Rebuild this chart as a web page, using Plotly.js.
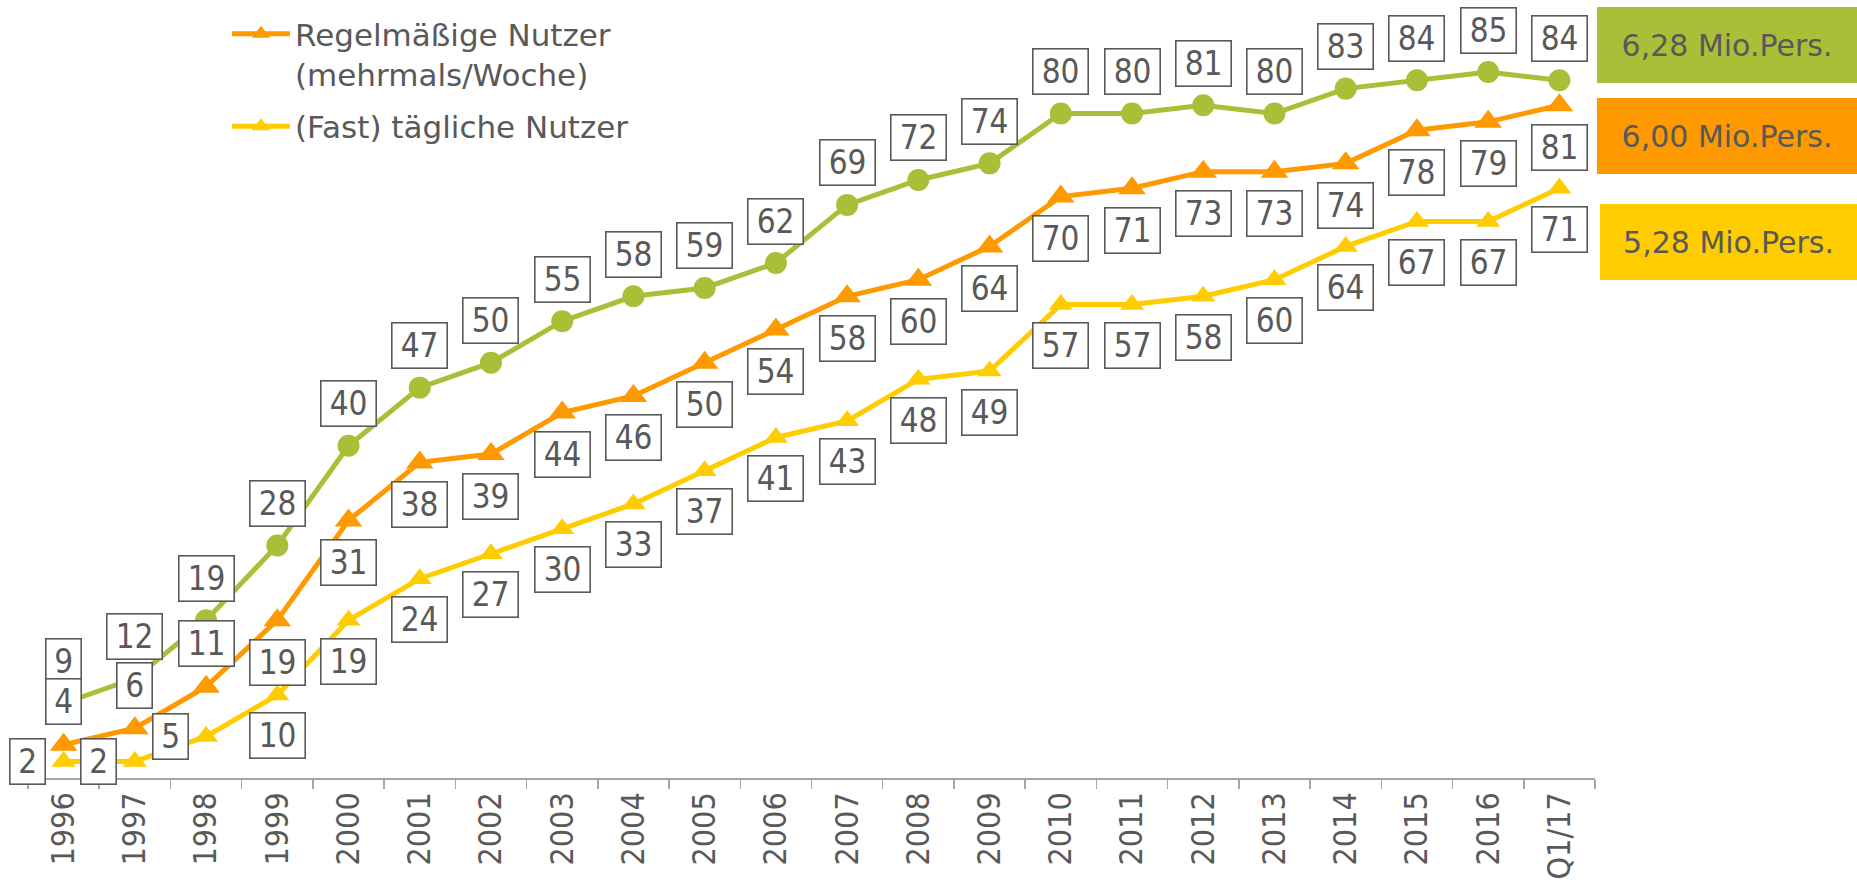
<!DOCTYPE html>
<html><head><meta charset="utf-8">
<script src="https://cdn.plot.ly/plotly-3.0.1.min.js"></script>
<style>html,body{margin:0;padding:0;background:#fff;} #chart{width:1857px;height:890px;}</style>
</head><body><div id="chart"></div>
<script>
const years = ['1996','1997','1998','1999','2000','2001','2002','2003','2004','2005','2006','2007','2008','2009','2010','2011','2012','2013','2014','2015','2016','Q1/17'];
const widestCircle = [9,12,19,28,40,47,50,55,58,59,62,69,72,74,80,80,81,80,83,84,85,84];
const regularUsers = [4,6,11,19,31,38,39,44,46,50,54,58,60,64,70,71,73,73,74,78,79,81];
const dailyUsers = [2,2,5,10,19,24,27,30,33,37,41,43,48,49,57,57,58,60,64,67,67,71];
const seriesNames = ['Weitester Nutzerkreis', 'Regelmäßige Nutzer<br>(mehrmals/Woche)', '(Fast) tägliche Nutzer'];
const totals = ['6,28 Mio.Pers.', '6,00 Mio.Pers.', '5,28 Mio.Pers.'];

const GREEN = '#A9BF38', ORANGE = '#FF9900', YELLOW = '#FFCC00', TXT = '#595959';
const FONT = 'DejaVu Sans, Verdana, sans-serif';
const FONT_C = 'DejaVu Sans Condensed, DejaVu Sans, sans-serif';

const traces = [
  {x: years, y: widestCircle, name: seriesNames[0], showlegend: false, mode: 'lines+markers',
   line: {color: GREEN, width: 5}, marker: {symbol: 'circle', size: 22, color: GREEN}, cliponaxis: false},
  {x: years, y: regularUsers, name: seriesNames[1], legendgroup: 'r', mode: 'lines+markers',
   line: {color: ORANGE, width: 5}, marker: {symbol: 'triangle-up', size: 24, color: ORANGE}, cliponaxis: false},
  {x: years, y: dailyUsers, name: seriesNames[2], legendgroup: 'd', mode: 'lines+markers',
   line: {color: YELLOW, width: 5}, marker: {symbol: 'triangle-up', size: 21, color: YELLOW}, cliponaxis: false}
];

const annotations = [];
function label(idx, yv, xs, ys) {
  const t = String(yv);
  annotations.push({x: idx, y: yv, xref: 'x', yref: 'y', text: t, showarrow: false,
    xshift: xs, yshift: ys, width: 12 + 20 * t.length, height: 42,
    bgcolor: '#ffffff', bordercolor: TXT, borderwidth: 1.6, borderpad: 1,
    font: {family: FONT_C, size: 33, color: TXT}});
}
years.forEach((yr, i) => {
  label(i, widestCircle[i], 0, 42);
  if (i < 3) label(i, regularUsers[i], 0, 43); else label(i, regularUsers[i], 0, -42);
  if (i < 3) label(i, dailyUsers[i], -36, 0); else label(i, dailyUsers[i], 0, -41);
});

const plotH = 778, plotW = 1567, ml = 28;
const boxes = [
  {text: totals[0], color: GREEN, left: 1597, top: 7},
  {text: totals[1], color: ORANGE, left: 1597, top: 98},
  {text: totals[2], color: YELLOW, left: 1600, top: 204}
];
boxes.forEach(b => {
  annotations.push({xref: 'paper', yref: 'paper', x: (b.left - ml) / plotW, xanchor: 'left',
    y: 1 - b.top / plotH, yanchor: 'top', text: b.text, showarrow: false,
    width: 1857 - b.left, height: 76, bgcolor: b.color, borderpad: 0, borderwidth: 0,
    align: 'center', font: {family: FONT, size: 30, color: TXT}});
});

const layout = {
  width: 1857, height: 890,
  margin: {l: ml, r: 262, t: 0, b: 112},
  paper_bgcolor: '#ffffff', plot_bgcolor: '#ffffff',
  showlegend: true,
  legend: {x: (227 - ml) / plotW, xanchor: 'left', y: 1 - 7 / plotH, yanchor: 'top',
    font: {family: FONT, size: 31, color: TXT}, valign: 'top', itemwidth: 58,
    bgcolor: 'rgba(0,0,0,0)', tracegroupgap: 9},
  xaxis: {type: 'category', range: [-0.5, 21.5], tickson: 'boundaries', ticks: 'outside',
    ticklen: 9, tickwidth: 1.5, tickcolor: '#a6a6a6', showline: true, linecolor: '#a6a6a6',
    linewidth: 1.5, showgrid: false, zeroline: false, tickangle: -90, automargin: false,
    tickfont: {family: FONT_C, size: 32, color: TXT}},
  yaxis: {range: [0, 93.67], visible: false, showgrid: false, zeroline: false, automargin: false},
  annotations: annotations
};

Plotly.newPlot('chart', traces, layout, {displayModeBar: false, staticPlot: true});
</script>
</body></html>
